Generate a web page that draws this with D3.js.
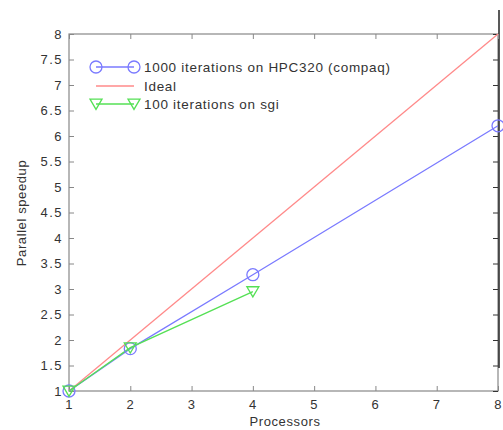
<!DOCTYPE html>
<html><head><meta charset="utf-8">
<script src="https://cdn.jsdelivr.net/npm/d3@7"></script>
<style>body{margin:0;background:#fff}text{font-family:"Liberation Sans",Arial,sans-serif;fill:#333}</style>
</head><body><svg id="c" width="503" height="430"></svg>
<script>
const xTicks = [1,2,3,4,5,6,7,8];
const yTicks = [1,1.5,2,2.5,3,3.5,4,4.5,5,5.5,6,6.5,7,7.5,8];
const compaqX = [1,2,4,8];
const compaqY = [1,1.83,3.28,6.2];
const idealX = [1,8];
const idealY = [1,8];
const sgiX = [1,2,4];
const sgiY = [1,1.85,2.95];
const legendLabels = ["1000 iterations on HPC320 (compaq)","Ideal","100 iterations on sgi"];

const svg = d3.select("#c");
const L=69,R=498,T=34,B=391;
const x = d3.scaleLinear().domain([1,8]).range([L,R]);
const y = d3.scaleLinear().domain([1,8]).range([B,T]);
const axisCol="#888";

svg.append("rect").attr("x",L).attr("y",T).attr("width",R-L).attr("height",B-T)
  .attr("fill","none").attr("stroke",axisCol).attr("stroke-width",1.2);
svg.append("line").attr("x1",R+1).attr("x2",R+1).attr("y1",10).attr("y2",368).attr("stroke","#222").attr("stroke-width",1.5);

const xa = svg.append("g").attr("transform",`translate(0,${B})`)
  .call(d3.axisBottom(x).tickValues(xTicks).tickSize(-5).tickPadding(9).tickFormat(d3.format("d")));
const ya = svg.append("g").attr("transform",`translate(${L},0)`)
  .call(d3.axisLeft(y).tickValues(yTicks).tickSize(-5).tickPadding(6).tickFormat(d=>d));
const xt = svg.append("g").attr("transform",`translate(0,${T})`)
  .call(d3.axisTop(x).tickValues(xTicks).tickSize(-5).tickFormat(""));
const yr = svg.append("g").attr("transform",`translate(${R},0)`)
  .call(d3.axisRight(y).tickValues(yTicks).tickSize(-5).tickFormat(""));
[xa,ya,xt,yr].forEach(g=>{g.select(".domain").remove();g.selectAll("line").attr("stroke",axisCol);
  g.selectAll("text").attr("font-size",13).attr("letter-spacing",1.5).style("fill","#333").attr("font-family","Liberation Sans, Arial, sans-serif");});
yr.selectAll("line").attr("stroke","#333");

svg.append("text").attr("x",285).attr("y",426).attr("text-anchor","middle").attr("font-size",13).attr("letter-spacing",0.6).text("Processors");
svg.append("text").attr("transform",`translate(26,${213}) rotate(-90)`).attr("text-anchor","middle").attr("font-size",13).attr("letter-spacing",0.6).text("Parallel speedup");

const line = d3.line().x(d=>x(d[0])).y(d=>y(d[1]));
const blue="#7a7aff", red="#ff8a8a", green="#55e055";
const comp = compaqX.map((v,i)=>[v,compaqY[i]]);
const ideal = idealX.map((v,i)=>[v,idealY[i]]);
const sgi = sgiX.map((v,i)=>[v,sgiY[i]]);

svg.append("path").attr("d",line(ideal)).attr("fill","none").attr("stroke",red).attr("stroke-width",1.3);
svg.append("path").attr("d",line(comp)).attr("fill","none").attr("stroke",blue).attr("stroke-width",1.3);
svg.append("path").attr("d",line(sgi)).attr("fill","none").attr("stroke",green).attr("stroke-width",1.3);

const tri = (cx,cy,s)=>`M${cx-s},${cy-s*0.8}L${cx+s},${cy-s*0.8}L${cx},${cy+s*0.9}Z`;
svg.selectAll(".cm").data(comp).join("circle").attr("cx",d=>x(d[0])).attr("cy",d=>y(d[1])).attr("r",6)
  .attr("fill","none").attr("stroke",blue).attr("stroke-width",1.3);
svg.selectAll(".tm").data(sgi).join("path").attr("d",d=>tri(x(d[0]),y(d[1]),6))
  .attr("fill","none").attr("stroke",green).attr("stroke-width",1.3);

const lg = svg.append("g");
const ly=[67,86,104], lx1=96, lx2=134;
const cols=[blue,red,green];
ly.forEach((yy,i)=>{
  lg.append("line").attr("x1",lx1).attr("x2",lx2).attr("y1",yy).attr("y2",yy).attr("stroke",cols[i]).attr("stroke-width",1.3);
  if(i===0){[lx1,lx2].forEach(xx=>lg.append("circle").attr("cx",xx).attr("cy",yy).attr("r",6).attr("fill","none").attr("stroke",blue).attr("stroke-width",1.3));}
  if(i===2){[lx1,lx2].forEach(xx=>lg.append("path").attr("d",tri(xx,yy,6)).attr("fill","none").attr("stroke",green).attr("stroke-width",1.3));}
  lg.append("text").attr("x",144).attr("y",yy+5).attr("font-size",13.5).attr("letter-spacing",0.7).text(legendLabels[i]);
});
</script></body></html>
